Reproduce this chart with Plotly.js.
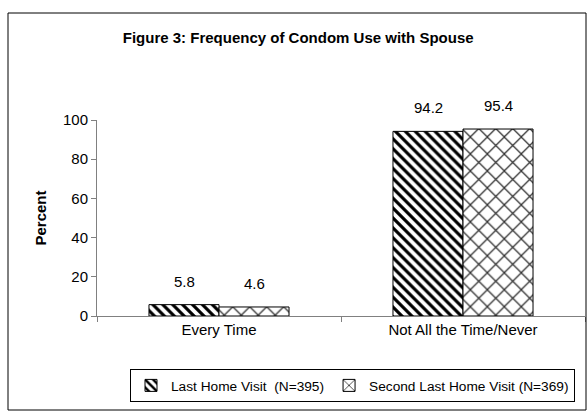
<!DOCTYPE html>
<html>
<head>
<meta charset="utf-8">
<script src="https://cdn.plot.ly/plotly-3.0.1.min.js"></script>
<style>html,body{margin:0;padding:0;background:#fff;}#chart{width:587px;height:417px;}</style>
</head>
<body>
<div id="chart"></div>
<script>
const categories = ["Every Time", "Not All the Time/Never"];
const seriesNames = ["Last Home Visit  (N=395)", "Second Last Home Visit (N=369)"];
const lastVisit = [5.8, 94.2];
const secondLastVisit = [4.6, 95.4];
const yTicks = [0, 20, 40, 60, 80, 100];

const font = "Liberation Sans, Arial, sans-serif";

const traces = [
  {
    type: "bar", name: seriesNames[0], x: categories, y: lastVisit,
    marker: {color: "#fff", line: {color: "#000", width: 1},
      pattern: {shape: "\\", fgcolor: "#000", bgcolor: "#fff", size: 7, solidity: 0.45}}
  },
  {
    type: "bar", name: seriesNames[1], x: categories, y: secondLastVisit,
    marker: {color: "#fff", line: {color: "#000", width: 1},
      pattern: {shape: "x", fgcolor: "#333", bgcolor: "#fff", size: 12, solidity: 0.2}}
  }
];

const annotations = [];
[lastVisit, secondLastVisit].forEach((series, si) => {
  series.forEach((v, i) => {
    annotations.push({
      xref: "x", yref: "y", x: categories[i], y: v, text: v.toFixed(1),
      showarrow: false, xanchor: "center", yanchor: "bottom",
      xshift: si === 0 ? -35 : 35, yshift: 13,
      font: {family: font, size: 15, color: "#000"}
    });
  });
});

const layout = {
  width: 587, height: 417,
  margin: {l: 97, r: 2, t: 120, b: 101},
  paper_bgcolor: "#fff", plot_bgcolor: "#fff",
  font: {family: font, size: 15, color: "#000"},
  barmode: "group", bargap: 0.426, bargroupgap: 0,
  title: {text: "<b>Figure 3: Frequency of Condom Use with Spouse</b>",
    font: {family: font, size: 15, color: "#000"},
    x: 0.508, xref: "container", xanchor: "center", y: 1 - 38/417, yref: "container", yanchor: "middle"},
  xaxis: {type: "category", showline: true, linecolor: "#808080", linewidth: 1,
    ticks: "outside", tickson: "boundaries", ticklen: 5, tickcolor: "#808080",
    showgrid: false, zeroline: false, tickfont: {family: font, size: 15, color: "#000"}},
  yaxis: {range: [0, 100], tickvals: yTicks, showline: true, linecolor: "#808080", linewidth: 1,
    ticks: "outside", ticklen: 5, tickcolor: "#808080", showgrid: false, zeroline: false,
    tickfont: {family: font, size: 15, color: "#000"},
    title: {text: "<b>Percent</b>", font: {family: font, size: 15, color: "#000"}, standoff: 12}},
  showlegend: true,
  legend: {orientation: "h", x: (130-97)/488, xanchor: "left", y: (316-369)/196, yanchor: "top",
    bordercolor: "#000", borderwidth: 1, bgcolor: "#fff",
    font: {family: font, size: 13.7, color: "#000"}, itemwidth: 30, traceorder: "normal"},
  annotations: annotations,
  shapes: [
    {type: "rect", xref: "paper", yref: "paper", x0: (8-97)/488, x1: (586-97)/488,
      y0: (316-410)/196, y1: (316-13)/196, line: {color: "#000", width: 1}, fillcolor: "rgba(0,0,0,0)"}
  ]
};

Plotly.newPlot("chart", traces, layout, {displayModeBar: false, staticPlot: true});
</script>
</body>
</html>
